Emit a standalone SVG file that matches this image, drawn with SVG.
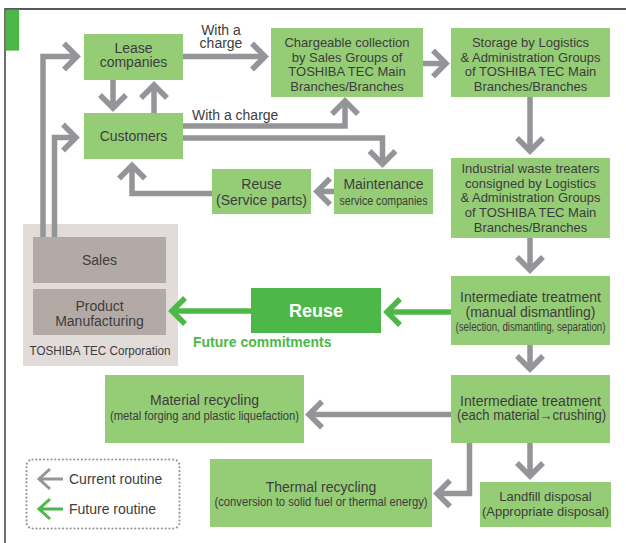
<svg xmlns="http://www.w3.org/2000/svg" width="626" height="543" viewBox="0 0 626 543">
  <defs>
    <style>
      text { font-family: "Liberation Sans", Arial, sans-serif; fill: #3d3d3d; }
      .box { fill: #95cc76; }
      .t14 { font-size: 14px; text-anchor: middle; }
      .t13 { font-size: 13px; text-anchor: middle; }
      .sm { font-size: 12px; text-anchor: middle; }
      .lbl { font-size: 14px; }
      .cur { fill: none; stroke: #939598; stroke-width: 5.5; stroke-linejoin: miter; marker-end: url(#chevGray); }
      .fut { fill: none; stroke: #4db848; stroke-width: 5.5; stroke-linejoin: miter; marker-end: url(#chevGreen); }
    </style>
    <marker id="chevGray" markerUnits="userSpaceOnUse" orient="auto" refX="0" refY="0" markerWidth="30" markerHeight="30" overflow="visible">
      <path d="M-13,-13 L0,0 L-13,13" fill="none" stroke="#939598" stroke-width="5.5" stroke-linejoin="miter"/>
    </marker>
    <marker id="chevGreen" markerUnits="userSpaceOnUse" orient="auto" refX="0" refY="0" markerWidth="30" markerHeight="30" overflow="visible">
      <path d="M-13,-13 L0,0 L-13,13" fill="none" stroke="#4db848" stroke-width="5.5" stroke-linejoin="miter"/>
    </marker>
  </defs>

  <rect width="626" height="543" fill="#ffffff"/>

  <!-- frame -->
  <path d="M5,543 V9 H626" fill="none" stroke="#222" stroke-width="1.3"/>
  <rect x="5.6" y="9.6" width="13.5" height="41" fill="#4cb748"/>

  <!-- TOSHIBA TEC Corporation block -->
  <g id="corporation">
    <rect x="23" y="224" width="155" height="142" fill="#e1dcd9"/>
    <text x="100" y="354.5" font-size="13" text-anchor="middle" textLength="141" lengthAdjust="spacingAndGlyphs">TOSHIBA TEC Corporation</text>
  </g>
  <g id="sales">
    <rect x="33" y="237" width="133" height="46" fill="#b4aaa5"/>
    <text class="t14" x="99.5" y="265">Sales</text>
  </g>
  <g id="manufacturing">
    <rect x="33" y="289" width="133" height="46" fill="#b4aaa5"/>
    <text class="t14" x="99.5" y="311">Product</text>
    <text class="t14" x="99.5" y="325.5">Manufacturing</text>
  </g>

  <!-- connectors -->
  <g id="connectors">
    <path class="cur" d="M183,56.5 H265"/>
    <path class="cur" d="M423,63.5 H446"/>
    <path class="cur" d="M530,97 V151"/>
    <path class="cur" d="M530,238 V270"/>
    <path class="cur" d="M530,345 V369"/>
    <path class="cur" d="M530,443 V476"/>
    <path class="cur" d="M451,414.5 H309"/>
    <path class="cur" d="M469.5,443 V493.5 H437"/>
    <path class="cur" d="M113,80 V108"/>
    <path class="cur" d="M154,113 V85"/>
    <path class="cur" d="M183,126 H345 V101"/>
    <path class="cur" d="M183,138 H382.5 V164"/>
    <path class="cur" d="M334,191.5 H317"/>
    <path class="cur" d="M212,193.5 H132 V165.5"/>
    <path class="cur" d="M43,237 V56.5 H77"/>
    <path class="cur" d="M54.5,237 V137.5 H76"/>
    <path class="fut" d="M451,312 H387"/>
    <path class="fut" d="M251,311 H172"/>
    <text class="lbl" x="221" y="34.5" text-anchor="middle">With a</text>
    <text class="lbl" x="221" y="48" text-anchor="middle">charge</text>
    <text class="lbl" x="192" y="120">With a charge</text>
  </g>

  <!-- nodes -->
  <g id="lease">
    <rect class="box" x="84" y="34" width="99" height="46"/>
    <text class="t14" x="133.5" y="52.5">Lease</text>
    <text class="t14" x="133.5" y="67">companies</text>
  </g>
  <g id="customers">
    <rect class="box" x="84" y="113" width="99" height="46"/>
    <text class="t14" x="133.5" y="141">Customers</text>
  </g>
  <g id="collection">
    <rect class="box" x="271" y="28" width="152" height="69"/>
    <text class="t13" x="347" y="46.5">Chargeable collection</text>
    <text class="t13" x="347" y="61.5">by Sales Groups of</text>
    <text class="t13" x="347" y="75.5">TOSHIBA TEC Main</text>
    <text class="t13" x="347" y="90.5">Branches/Branches</text>
  </g>
  <g id="storage">
    <rect class="box" x="451" y="28" width="159" height="69"/>
    <text class="t13" x="530.5" y="46.5">Storage by Logistics</text>
    <text class="t13" x="530.5" y="61.5">&amp; Administration Groups</text>
    <text class="t13" x="530.5" y="75.5">of TOSHIBA TEC Main</text>
    <text class="t13" x="530.5" y="90.5">Branches/Branches</text>
  </g>
  <g id="industrial-waste">
    <rect class="box" x="451" y="158" width="159" height="80"/>
    <text class="t13" x="530.5" y="172.5">Industrial waste treaters</text>
    <text class="t13" x="530.5" y="187.5">consigned by Logistics</text>
    <text class="t13" x="530.5" y="202">&amp; Administration Groups</text>
    <text class="t13" x="530.5" y="216.5">of TOSHIBA TEC Main</text>
    <text class="t13" x="530.5" y="231.5">Branches/Branches</text>
  </g>
  <g id="maintenance">
    <rect class="box" x="334" y="169" width="99" height="45"/>
    <text class="t14" x="383.5" y="189">Maintenance</text>
    <text class="sm" x="383.5" y="204.5" textLength="88" lengthAdjust="spacingAndGlyphs">service companies</text>
  </g>
  <g id="service-parts">
    <rect class="box" x="212" y="169" width="99" height="45"/>
    <text class="t14" x="261.5" y="189">Reuse</text>
    <text class="t14" x="261.5" y="205">(Service parts)</text>
  </g>
  <g id="dismantling">
    <rect class="box" x="451" y="276" width="159" height="69"/>
    <text class="t14" x="530.5" y="302">Intermediate treatment</text>
    <text class="t14" x="530.5" y="316.5">(manual dismantling)</text>
    <text class="sm" x="530.5" y="330.5" textLength="150" lengthAdjust="spacingAndGlyphs">(selection, dismantling, separation)</text>
  </g>
  <g id="reuse">
    <rect x="251" y="288" width="130" height="45" fill="#4db848"/>
    <text x="316" y="317" font-size="18" font-weight="bold" text-anchor="middle" style="fill:#ffffff">Reuse</text>
    <text x="193" y="347" font-size="14" font-weight="bold" style="fill:#4db848">Future commitments</text>
  </g>
  <g id="crushing">
    <rect class="box" x="451" y="375" width="159" height="68"/>
    <text class="t14" x="530.5" y="405.5">Intermediate treatment</text>
    <text class="t14" x="531.5" y="420" textLength="149" lengthAdjust="spacingAndGlyphs">(each material→crushing)</text>
  </g>
  <g id="material-recycling">
    <rect class="box" x="105" y="375" width="199" height="68"/>
    <text class="t14" x="204.5" y="405">Material recycling</text>
    <text class="sm" x="204.5" y="419.5" textLength="189" lengthAdjust="spacingAndGlyphs">(metal forging and plastic liquefaction)</text>
  </g>
  <g id="thermal-recycling">
    <rect class="box" x="210" y="459" width="222" height="68"/>
    <text class="t14" x="321" y="492">Thermal recycling</text>
    <text class="sm" x="321" y="505.5" textLength="213" lengthAdjust="spacingAndGlyphs">(conversion to solid fuel or thermal energy)</text>
  </g>
  <g id="landfill">
    <rect class="box" x="480" y="482" width="131" height="45"/>
    <text class="t13" x="545.5" y="500.5">Landfill disposal</text>
    <text class="t13" x="545.5" y="515.5">(Appropriate disposal)</text>
  </g>

  <!-- legend -->
  <g id="legend">
    <rect x="26.5" y="459.5" width="153" height="69" rx="6" fill="none" stroke="#939598" stroke-width="2.2" stroke-linecap="round" stroke-dasharray="0 3.8"/>
    <path d="M63,479 H39 M50,469 L39,479 L50,489" fill="none" stroke="#939598" stroke-width="3"/>
    <text class="lbl" x="69" y="484">Current routine</text>
    <path d="M63,509 H39 M50,499 L39,509 L50,519" fill="none" stroke="#4db848" stroke-width="3"/>
    <text class="lbl" x="69" y="514">Future routine</text>
  </g>
</svg>
